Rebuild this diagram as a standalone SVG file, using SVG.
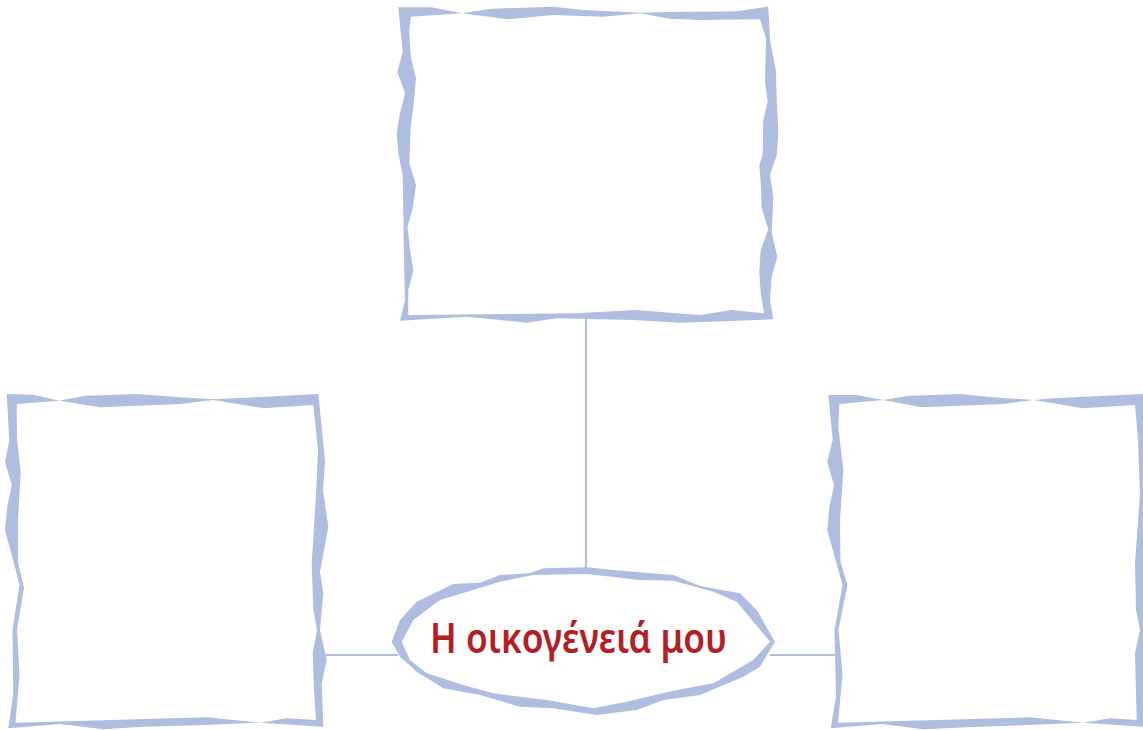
<svg xmlns="http://www.w3.org/2000/svg" width="1143" height="730" viewBox="0 0 1143 730">
<style>
.frame{fill:#AEBDE0;fill-rule:evenodd;stroke:none}
.inner{fill:#FFFFFF;stroke:none}
.conn{stroke:#AEBDE0;stroke-width:2;fill:none}
.title{font-family:"Noto Sans","DejaVu Sans",sans-serif;font-size:42px;font-weight:600;fill:#B22025}
</style>
<rect width="1143" height="730" fill="#FFFFFF"/>
<g id="connectors">
<line class="conn" x1="586" y1="318" x2="586" y2="576"/>
<line class="conn" x1="322" y1="655" x2="398" y2="655"/>
<line class="conn" x1="770" y1="655" x2="838" y2="655"/>
</g>
<g id="box-top">
<path class="frame" d="M398.3,7.3 L431.7,7.3 L461.7,13.3 L491.7,8.7 L553.3,6.7 L583.3,10 L640,12.7 L670,12 L736.7,11.3 L768.3,6.7 L770,40 L776,71.7 L776.7,100 L778.3,133.3 L776.7,155 L770,175 L773.3,196.7 L771.7,233.3 L777.3,256.7 L771.7,276.7 L770,300 L773.3,319.3 L680,322.7 L633.3,320 L556.7,318.3 L526.7,322.7 L466.7,316.7 L400,320.7 L405,300 L404,260 L402.7,175 L398.3,153.3 L396.7,133.3 L400,113.3 L405,93.3 L397.3,71.7 L402.7,51.7 Z M410.7,16.7 L409.3,33.3 L410.7,56.7 L416,78.3 L413,110 L410.7,126.7 L409.3,163.3 L416,185 L412.7,208.3 L407.5,226.7 L410,250 L413.3,270 L408.3,290 L408.3,315 L576.7,313.3 L635,310 L700,315 L731.7,310 L764,313.3 L760.7,293.3 L759.3,271.7 L760.7,250 L768.3,229.3 L761.7,208.3 L761,186.7 L759.3,165 L762.7,155 L763.3,120 L767.7,101.7 L765,81.7 L766,38.3 L760,19.3 L700,20 L670,18.7 L640,13.3 L603.3,16.7 L553.3,15 L508.3,19.3 L461.7,13.3 Z"/>
</g>
<g id="box-left">
<path class="frame" d="M6.7,394 L33.3,394.7 L59.3,400.7 L85,395.7 L136.7,394 L180,397.3 L213.3,399.3 L233.3,398.3 L318.3,394 L322,430 L325,461.7 L323,490 L328.3,526.7 L320,571.7 L323.3,593.3 L320,630 L326.7,660 L321.7,683.3 L323.3,726.7 L260,722.7 L206.7,725 L143.3,726.7 L103.3,729.3 L60,724 L8.3,728.3 L13.3,693.3 L12.5,630 L19.5,585 L14,563.3 L5,530 L7.3,506.7 L11.7,485 L5,461.7 L9.3,440 Z M16.7,404 L17,440 L20.7,471.7 L18,520 L18,561.7 L24,588 L17,629.3 L19.5,675 L15.5,722.7 L206.7,717.3 L260,722.7 L286.7,718.3 L316,720 L314,690 L312.7,653.3 L317,630 L313.3,610 L311.7,563.3 L316,495 L318,450 L313.3,405 L263.3,408.3 L213.3,400 L180,404 L100,407.3 L59.3,400.7 Z"/>
</g>
<g id="box-right">
<path class="frame" d="M828.3,395 L856.7,395 L883.3,400 L908.3,395.7 L960,394 L993.3,397.3 L1033.3,400 L1053.3,398.3 L1143,394 L1143,726.7 L1083.3,722.7 L1030,725 L966.7,727.3 L923.3,729.3 L881.7,724 L830.7,728.3 L836,696.7 L834.5,630 L842.5,585 L835.5,560 L827.3,530 L829.3,506.7 L834,485 L827.3,461.7 L832.7,440 Z M839.3,404 L838.3,426.7 L843.3,470 L840,520 L840.5,561.7 L847.5,585 L838.5,629.3 L842.5,675 L838,722.7 L1030,717.3 L1083.3,722.7 L1110,718.3 L1136.7,720 L1135,653.3 L1140,630 L1136,610 L1135,563.3 L1140,493.3 L1138,440 L1135,405 L1083.3,408.3 L1033.3,400 L1003.3,404 L921.7,407.3 L883.3,400 Z"/>
</g>
<g id="node-title">
<path class="inner" d="M401.7,641.7 L413.3,620 L440,600 L500,581.7 L533.3,575 L586.7,574 L640,580 L673.3,580.7 L713.3,591.7 L736.7,601.7 L770,641.7 L753.3,660 L713.3,683.3 L673.3,690.7 L626.7,701.7 L593.3,708.3 L546.7,700 L493.3,693.3 L463.3,685 L426.7,673.3 L410,660 Z"/>
<path class="frame" d="M391.7,641.7 L400,620 L416.7,601.7 L453.3,584 L480,582.7 L500,575 L530,573.3 L543.3,568.3 L586.7,567.3 L613.3,570 L673.3,575 L700,586 L740,593.3 L756.7,610 L775,641.7 L760,666.7 L743.3,676.7 L700,695 L663.3,700 L636.7,710 L596.7,715 L553.3,708.3 L520,706.7 L480,695 L443.3,688.3 L416.7,671.7 L400,656.7 Z M401.7,641.7 L410,660 L426.7,673.3 L463.3,685 L493.3,693.3 L546.7,700 L593.3,708.3 L626.7,701.7 L673.3,690.7 L713.3,683.3 L753.3,660 L770,641.7 L736.7,601.7 L713.3,591.7 L673.3,580.7 L640,580 L586.7,574 L533.3,575 L500,581.7 L440,600 L413.3,620 Z"/>
<text class="title" x="430" y="653" textLength="297" lengthAdjust="spacingAndGlyphs">Η οικογένειά μου</text>
</g>
</svg>
